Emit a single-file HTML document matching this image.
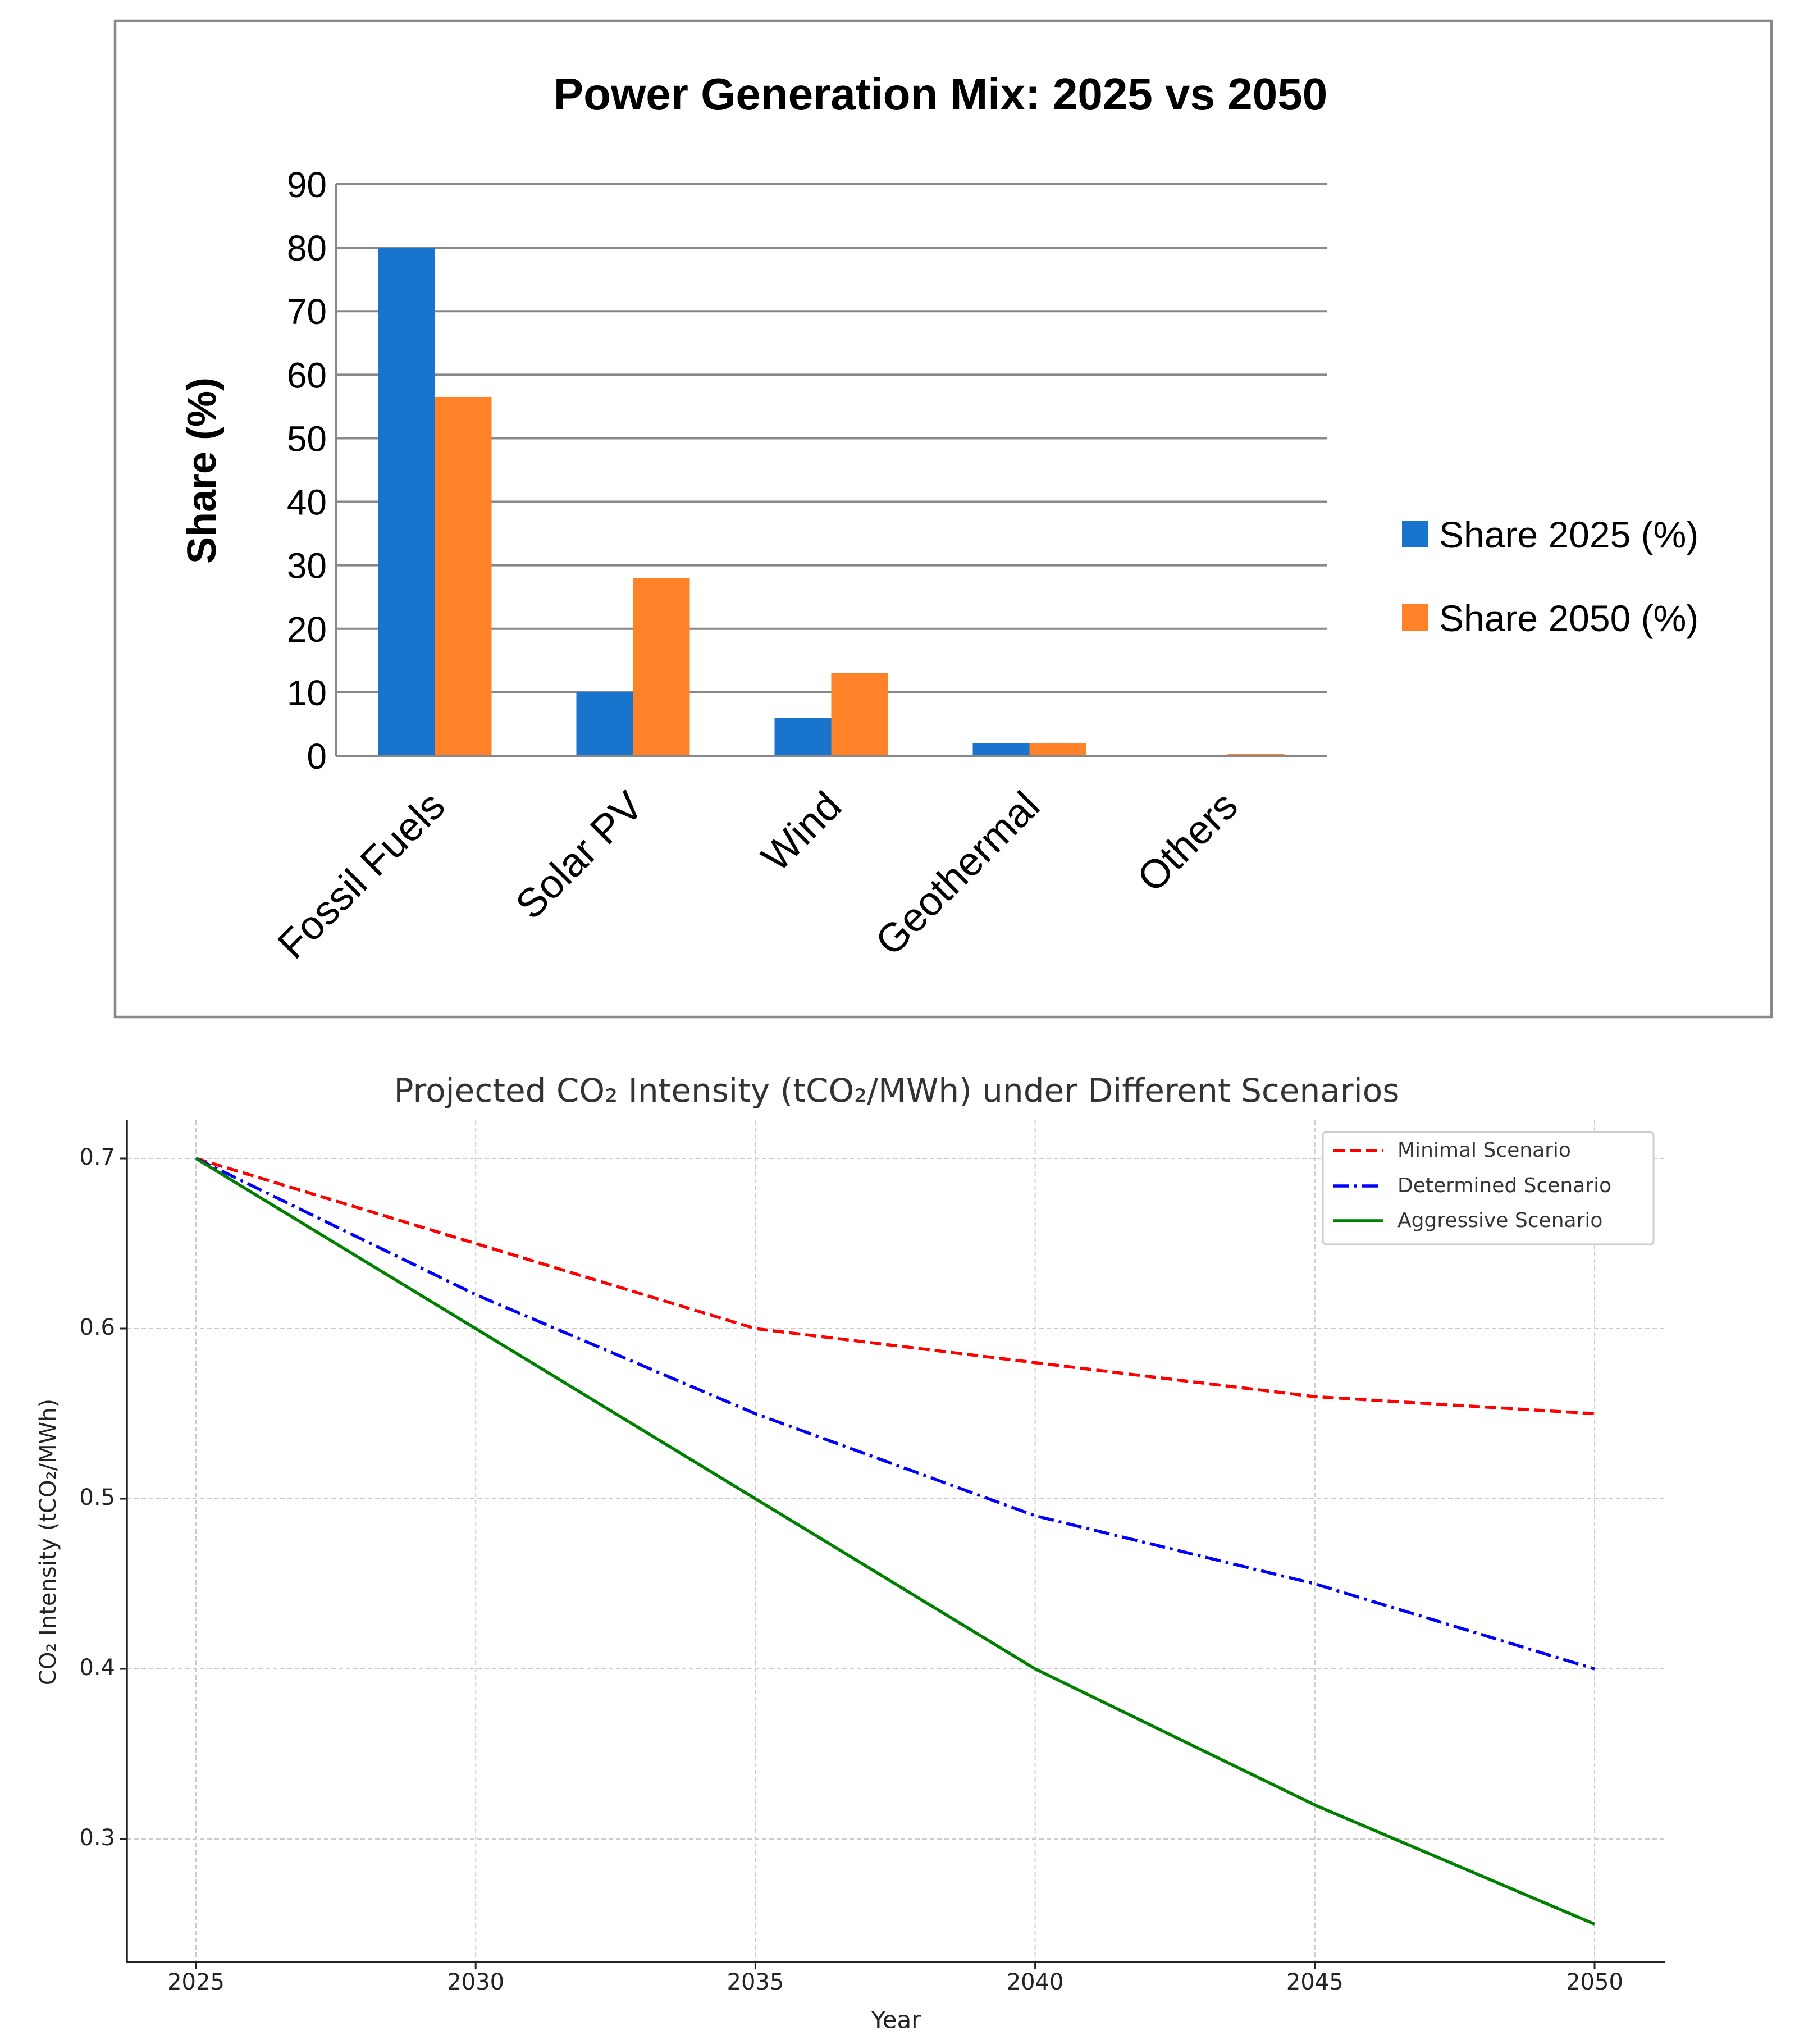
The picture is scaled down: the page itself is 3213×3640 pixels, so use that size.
<!DOCTYPE html>
<html><head><meta charset="utf-8"><style>
html,body{margin:0;padding:0;background:#fff;}
svg{display:block;}
</style></head><body>
<svg id="s" width="3213" height="3640" viewBox="0 0 3213 3640" xmlns="http://www.w3.org/2000/svg">
<rect x="205" y="37" width="2950" height="1774" fill="#fff" stroke="#888" stroke-width="4.5"/>
<text x="1675" y="195" text-anchor="middle" font-family="Liberation Sans, sans-serif" font-weight="bold" font-size="80">Power Generation Mix: 2025 vs 2050</text>
<g id="bar"></g>
<text x="365" y="838" transform="rotate(-90 365 838)" text-anchor="middle" dominant-baseline="middle" font-family="Liberation Sans, sans-serif" font-weight="bold" font-size="72">Share (%)</text>
<rect x="2497" y="927" width="47" height="47" fill="#1874cd"/>
<text x="2563" y="975" font-family="Liberation Sans, sans-serif" font-size="66">Share 2025 (%)</text>
<rect x="2497" y="1076" width="47" height="47" fill="#ff8228"/>
<text x="2563" y="1124" font-family="Liberation Sans, sans-serif" font-size="66">Share 2050 (%)</text>

<text x="1597" y="1946" text-anchor="middle" dominant-baseline="middle" font-family="DejaVu Sans, sans-serif" font-size="58" fill="#333">Projected CO₂ Intensity (tCO₂/MWh) under Different Scenarios</text>
<g id="line"></g>
<text x="1596" y="3600" text-anchor="middle" dominant-baseline="middle" font-family="DejaVu Sans, sans-serif" font-size="42" fill="#222">Year</text>
<text x="88" y="2746" transform="rotate(-90 88 2746)" text-anchor="middle" dominant-baseline="middle" font-family="DejaVu Sans, sans-serif" font-size="40" fill="#222">CO₂ Intensity (tCO₂/MWh)</text>
<g>
<rect x="2356" y="2016" width="589" height="200" rx="6" fill="#fff" stroke="#ccc" stroke-width="3"/>
<line x1="2375" y1="2049" x2="2463" y2="2049" stroke="#ff0000" stroke-width="5.5" stroke-dasharray="20 9"/>
<text x="2489" y="2050" dominant-baseline="middle" font-family="DejaVu Sans, sans-serif" font-size="36" fill="#333">Minimal Scenario</text>
<line x1="2375" y1="2112" x2="2463" y2="2112" stroke="#0000ff" stroke-width="5.5" stroke-dasharray="28 9 5 9"/>
<text x="2489" y="2113" dominant-baseline="middle" font-family="DejaVu Sans, sans-serif" font-size="36" fill="#333">Determined Scenario</text>
<line x1="2375" y1="2174" x2="2463" y2="2174" stroke="#008000" stroke-width="5.5"/>
<text x="2489" y="2175" dominant-baseline="middle" font-family="DejaVu Sans, sans-serif" font-size="36" fill="#333">Aggressive Scenario</text>
</g>
</svg>
<script>
const categories = ["Fossil Fuels","Solar PV","Wind","Geothermal","Others"];
const share2025 = [80,10,6,2,0];
const share2050 = [56.5,28,13,2,0.3];
const barTicks = [0,10,20,30,40,50,60,70,80,90];
const years = [2025,2030,2035,2040,2045,2050];
const minimal = [0.70,0.65,0.60,0.58,0.56,0.55];
const determined = [0.70,0.62,0.55,0.49,0.45,0.40];
const aggressive = [0.70,0.60,0.50,0.40,0.32,0.25];
const lineYTicks = [0.3,0.4,0.5,0.6,0.7];

const NS="http://www.w3.org/2000/svg";
function mk(p,t,a){const e=document.createElementNS(NS,t);for(const k in a)e.setAttribute(k,a[k]);p.appendChild(e);return e;}
// bar chart
const bg=document.getElementById('bar');
const bx0=598,bx1=2363,by0=1346,by90=328;
const by=v=>by0-(v/90)*(by0-by90);
const gw=(bx1-bx0)/categories.length, bw=101;
barTicks.forEach(t=>{
  const g=mk(bg,'line',{x1:bx0,x2:bx1,y1:by(t),y2:by(t),stroke:'#888','stroke-width':4});
  
  
  const l=mk(bg,'text',{x:582,y:by(t)+23,'text-anchor':'end','font-family':'Liberation Sans, sans-serif','font-size':64});
  l.textContent=t;
  
  
});
const ax=mk(bg,'line',{x1:bx0,x2:bx0,y1:by90,y2:by0,stroke:'#888','stroke-width':4});


categories.forEach((c,i)=>{
  const cx=bx0+gw*(i+0.5);
  const r1=mk(bg,'rect',{x:cx-bw,y:by(share2025[i]),width:bw,height:by0-by(share2025[i]),fill:'#1874cd'});
  
  
  const r2=mk(bg,'rect',{x:cx,y:by(share2050[i]),width:bw,height:by0-by(share2050[i]),fill:'#ff8228'});
  
  
  const tx=cx+22, ty=1440;
  const t=mk(bg,'text',{x:tx,y:ty,'text-anchor':'end','font-family':'Liberation Sans, sans-serif','font-size':72,transform:`rotate(-45 ${tx} ${ty})`});
  t.textContent=c;
  
  
});
const base=mk(bg,'line',{x1:bx0,x2:bx1,y1:by0,y2:by0,stroke:'#888','stroke-width':4});


// line chart
const lg=document.getElementById('line');
const L=226,R=2966,T=1995,B=3494;
const lx=y=>349+(y-2025)/25*(2840-349);
const ly=v=>2063+(0.7-v)/0.4*(3275-2063);
years.forEach(y=>{
  const g=mk(lg,'line',{x1:lx(y),x2:lx(y),y1:T,y2:B,stroke:'#ccc','stroke-width':2,'stroke-dasharray':'8 5'});
  
  
  const t=mk(lg,'text',{x:lx(y),y:3532,'text-anchor':'middle','dominant-baseline':'middle','font-family':'DejaVu Sans, sans-serif','font-size':40,fill:'#222'});
  t.textContent=y;
  
  
  const tk=mk(lg,'line',{x1:lx(y),x2:lx(y),y1:B,y2:B+12,stroke:'#222','stroke-width':3});
  
  
});
lineYTicks.forEach(v=>{
  const g=mk(lg,'line',{x1:L,x2:R,y1:ly(v),y2:ly(v),stroke:'#ccc','stroke-width':2,'stroke-dasharray':'8 5'});
  
  
  const t=mk(lg,'text',{x:205,y:ly(v),'text-anchor':'end','dominant-baseline':'middle','font-family':'DejaVu Sans, sans-serif','font-size':40,fill:'#222'});
  t.textContent=v.toFixed(1);
  
  
  const tk=mk(lg,'line',{x1:L-12,x2:L,y1:ly(v),y2:ly(v),stroke:'#222','stroke-width':3});
  
  
});
const series=[[minimal,'#ff0000','20 9','minimal'],[determined,'#0000ff','28 9 5 9','determined'],[aggressive,'#008000','','aggressive']];
series.forEach(([d,c,da,n])=>{
  const p=mk(lg,'polyline',{points:d.map((v,i)=>lx(years[i])+','+ly(v)).join(' '),fill:'none',stroke:c,'stroke-width':5.5,'stroke-dasharray':da||'none'});
  
  
});
const sp=mk(lg,'path',{d:`M${L},${T}V${B}H${R}`,fill:'none',stroke:'#222','stroke-width':3.5});


</script>
</body></html>
